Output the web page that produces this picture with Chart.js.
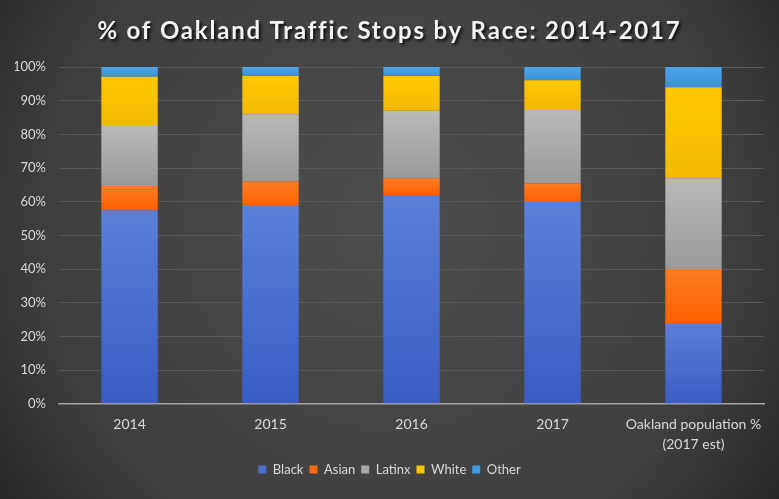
<html lang="en">
<head>
<meta charset="UTF-8">
<title>% of Oakland Traffic Stops by Race: 2014-2017</title>
<script src="https://cdn.jsdelivr.net/npm/chart.js"></script>
<style>
  html, body { margin: 0; padding: 0; background: #333; }
  #wrap { width: 779px; height: 499px; }
</style>
</head>
<body>
<div id="wrap"><canvas id="myChart" width="779" height="499"></canvas></div>
<script>
// Data (percent of stops)
const categories = ['2014', '2015', '2016', '2017', ['Oakland population %', '(2017 est)']];
const black  = [57.5, 59.0, 62.0, 60.2, 24.0];
const asian  = [ 7.2,  7.0,  5.0,  5.2, 16.0];
const latinx = [18.1, 20.0, 20.0, 21.8, 27.0];
const white  = [14.3, 11.3, 10.3,  8.9, 27.0];
const other  = [ 2.9,  2.7,  2.7,  3.9,  6.0];
const yTicks = [0, 10, 20, 30, 40, 50, 60, 70, 80, 90, 100];
const titleText = '% of Oakland Traffic Stops by Race: 2014-2017';

const FONT = 'Lato, "Open Sans", sans-serif';
const allSeries = [black, asian, latinx, white, other];

// dark vignette background + title with shadow
const bgPlugin = {
    id: 'bg',
    beforeDraw(chart) {
        const c = chart.ctx, w = chart.width, h = chart.height;
        const g = c.createRadialGradient(w * 0.5, h * 0.45, 40, w * 0.5, h * 0.45, w * 0.62);
        g.addColorStop(0, '#4c4c4c');
        g.addColorStop(0.7, '#3e3e3e');
        g.addColorStop(1, '#262626');
        c.save();
        c.fillStyle = g;
        c.fillRect(0, 0, w, h);
        c.restore();
    },
    afterDraw(chart) {
        const c = chart.ctx;
        c.save();
        c.font = 'bold 24px ' + FONT;
        c.letterSpacing = '1.8px';
        c.textAlign = 'center';
        c.textBaseline = 'middle';
        c.shadowColor = 'rgba(0,0,0,0.8)';
        c.shadowOffsetX = 2;
        c.shadowOffsetY = 2;
        c.shadowBlur = 3;
        c.fillStyle = '#f4f4f4';
        c.fillText(titleText, chart.width / 2, 31);
        c.restore();
    }
};

// each segment gets its own light-to-dark vertical gradient
function segFill(top, bottom, seriesIdx) {
    return function(ctx) {
        const chart = ctx.chart;
        if (!chart.chartArea || ctx.type !== 'data') return top;
        const i = ctx.dataIndex;
        let base = 0;
        for (let k = 0; k < seriesIdx; k++) base += allSeries[k][i];
        const y = chart.scales.y;
        const y0 = y.getPixelForValue(base + allSeries[seriesIdx][i]);
        const y1 = y.getPixelForValue(base);
        if (!isFinite(y0) || !isFinite(y1) || y0 === y1) return top;
        const g = chart.ctx.createLinearGradient(0, y0, 0, y1);
        g.addColorStop(0, top);
        g.addColorStop(1, bottom);
        return g;
    };
}

function makeSet(label, idx, top, bottom) {
    return {
        label: label,
        data: allSeries[idx],
        backgroundColor: segFill(top, bottom, idx),
        borderWidth: 0,
        categoryPercentage: 1.0,
        barPercentage: 0.4
    };
}

var ctx = document.getElementById('myChart').getContext('2d');
var myChart = new Chart(ctx, {
    type: 'bar',
    data: {
        labels: categories,
        datasets: [
            makeSet('Black',  0, '#5b80d8', '#3a5cc4'),
            makeSet('Asian',  1, '#ff7c24', '#ff6000'),
            makeSet('Latinx', 2, '#b9b9b9', '#9a9a9a'),
            makeSet('White',  3, '#ffc800', '#f2b900'),
            makeSet('Other',  4, '#4ea6ea', '#3a8fd8')
        ]
    },
    options: {
        responsive: false,
        animation: false,
        layout: { padding: { left: 15, right: 15, top: 67, bottom: 13 } },
        plugins: {
            title: { display: false },
            legend: {
                position: 'bottom',
                labels: {
                    color: '#d9d9d9',
                    font: { family: FONT, size: 13 },
                    boxWidth: 8,
                    boxHeight: 8,
                    padding: 6,
                    generateLabels(chart) {
                        const cols = ['#4a6fd0', '#ff6a0a', '#a8a8a8', '#ffc400', '#3f9be3'];
                        return chart.data.datasets.map((d, i) => ({
                            text: d.label, fillStyle: cols[i], strokeStyle: cols[i],
                            lineWidth: 0, fontColor: '#d9d9d9', datasetIndex: i, hidden: false
                        }));
                    }
                }
            },
            tooltip: { enabled: false }
        },
        scales: {
            x: {
                stacked: true,
                afterFit(axis) { axis.height -= 8; },
                grid: { display: false, drawTicks: false },
                border: { color: '#a6a6a6', width: 1.5 },
                ticks: {
                    color: '#d9d9d9',
                    font: { family: FONT, size: 14, lineHeight: 1.4 },
                    padding: 11,
                    maxRotation: 0,
                    minRotation: 0,
                    autoSkip: false
                }
            },
            y: {
                stacked: true,
                min: 0,
                max: 100,
                afterFit(axis) { axis.width -= 15; },
                afterBuildTicks(axis) { axis.ticks = yTicks.map(v => ({ value: v })); },
                grid: { color: '#595959', drawTicks: false },
                border: { display: false },
                ticks: {
                    color: '#d9d9d9',
                    font: { family: FONT, size: 13 },
                    padding: 13,
                    callback: v => v + '%'
                }
            }
        }
    },
    plugins: [bgPlugin]
});
</script>
</body>
</html>
